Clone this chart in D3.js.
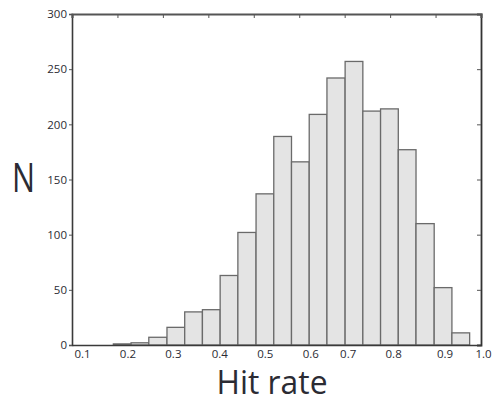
<!DOCTYPE html>
<html>
<head>
<meta charset="utf-8">
<script src="https://cdn.jsdelivr.net/npm/d3@7"></script>
<style>
  html, body { margin: 0; padding: 0; background: #fff; }
  svg { display: block; }
  text { font-family: "Open Sans", sans-serif; fill: #2b2b33; }
</style>
</head>
<body>
<svg id="chart" width="492" height="402"></svg>
<script>
// ---- data ----
const binEdges = [0.191, 0.230, 0.269, 0.309, 0.348, 0.387, 0.426, 0.465, 0.505, 0.544,
                  0.583, 0.622, 0.661, 0.701, 0.740, 0.779, 0.818, 0.857, 0.897, 0.936, 0.975];
const counts = [1, 2, 7, 16, 30, 32, 63, 102, 137, 189, 166, 209, 242, 257, 212, 214, 177, 110, 52, 11];
const xTicks = [0.1, 0.2, 0.3, 0.4, 0.5, 0.6, 0.7, 0.8, 0.9, 1.0];
const xTickLabels = ["0.1", "0.2", "0.3", "0.4", "0.5", "0.6", "0.7", "0.8", "0.9", "1.0"];
const yTicks = [0, 50, 100, 150, 200, 250, 300];
const xLabel = "Hit rate";
const yLabel = "N";

// ---- layout ----
const mLeft = 72, mRight = 481, mTop = 14, mBottom = 345;
const labelShift = [10, 10, 10, 11, 11, 11, 3, 3, 9, 2];

const svg = d3.select("#chart");
const x = d3.scaleLinear().domain([0.1, 1.0]).range([mLeft, mRight]);
const y = d3.scaleLinear().domain([0, 300]).range([mBottom, mTop]);

const bins = counts.map((c, i) => ({ x0: binEdges[i], x1: binEdges[i + 1], n: c }));

// bars
svg.append("g").selectAll("rect").data(bins).join("rect")
  .attr("x", d => x(d.x0))
  .attr("y", d => y(d.n))
  .attr("width", d => x(d.x1) - x(d.x0))
  .attr("height", d => y(0) - y(d.n))
  .attr("fill", "#e4e4e4")
  .attr("stroke", "#6a6a6a")
  .attr("stroke-width", 1.3);

// left axis (outward ticks)
const gl = svg.append("g").attr("transform", `translate(${mLeft},0)`)
  .call(d3.axisLeft(y).tickValues(yTicks).tickSize(3).tickPadding(2).tickFormat(d3.format("d")));
// right axis (inward ticks)
const gr = svg.append("g").attr("transform", `translate(${mRight},0)`)
  .call(d3.axisLeft(y).tickValues(yTicks).tickSize(4).tickFormat(""));
// top axis (inward ticks)
const gt = svg.append("g").attr("transform", `translate(0,${mTop})`)
  .call(d3.axisBottom(x).tickValues(xTicks).tickSize(4).tickFormat(""));
// bottom axis
const gb = svg.append("g").attr("transform", `translate(0,${mBottom})`)
  .call(d3.axisBottom(x).tickValues(xTicks).tickSize(0).tickPadding(5)
    .tickFormat((d, i) => xTickLabels[i]));

[gl, gr, gt, gb].forEach(g => {
  g.select(".domain").attr("stroke", "#3a3a3a").attr("stroke-width", 1.6);
  g.selectAll(".tick line").attr("stroke", "#555").attr("stroke-width", 1);
  g.selectAll(".tick text").style("font-family", "'Open Sans', sans-serif")
    .style("font-size", "11.5px").attr("fill", "#2b2b3a");
});
gt.select(".domain").attr("stroke", "#555").attr("stroke-width", 2.2);
gr.select(".domain").attr("stroke", "#333").attr("stroke-width", 1.8);
gb.selectAll(".tick text").attr("dx", (d, i) => labelShift[i]);

// axis titles
svg.append("text")
  .attr("x", 23.5).attr("y", 192)
  .attr("text-anchor", "middle")
  .attr("textLength", 23).attr("lengthAdjust", "spacingAndGlyphs")
  .style("font-size", "40px")
  .attr("fill", "#1f1f26")
  .text(yLabel);

svg.append("text")
  .attr("x", 272).attr("y", 394)
  .attr("text-anchor", "middle")
  .attr("textLength", 111).attr("lengthAdjust", "spacingAndGlyphs")
  .style("font-size", "32px")
  .attr("fill", "#1f1f26")
  .text(xLabel);
</script>
</body>
</html>
